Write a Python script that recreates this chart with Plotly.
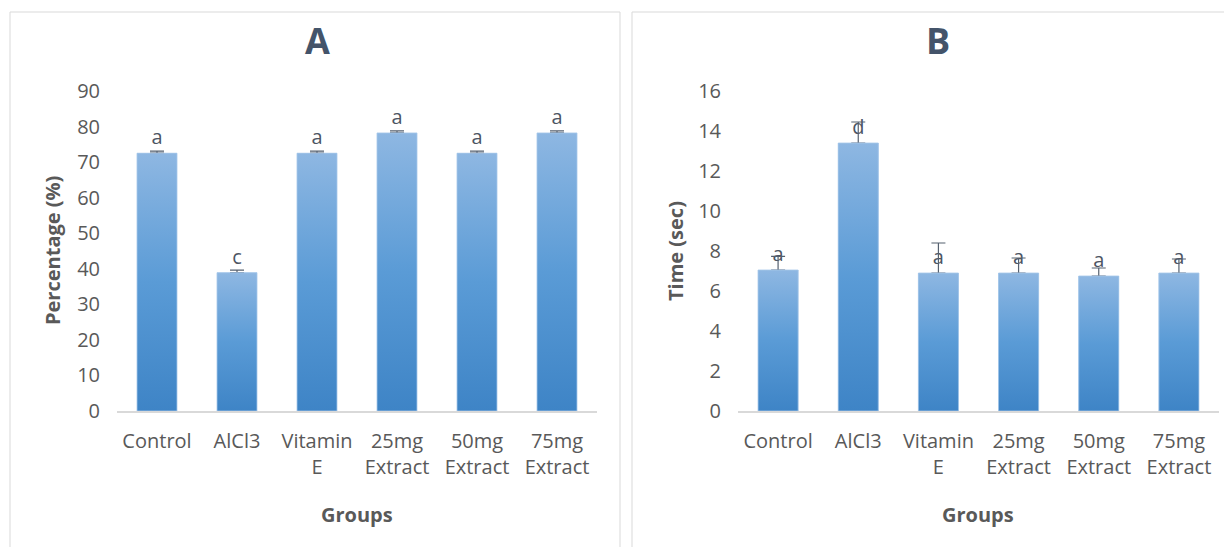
import plotly.graph_objects as go

categories = ["Control", "AlCl3", "Vitamin<br>E", "25mg<br>Extract", "50mg<br>Extract", "75mg<br>Extract"]

pct_values = [72.5, 38.9, 72.5, 78.2, 72.5, 78.2]
pct_errors = [0.6, 0.7, 0.6, 0.6, 0.6, 0.6]
pct_letters = ["a", "c", "a", "a", "a", "a"]

time_values = [7.05, 13.4, 6.9, 6.9, 6.75, 6.9]
time_errors = [0.68, 1.05, 1.5, 0.75, 0.4, 0.7]
time_letters = ["a", "d", "a", "a", "a", "a"]

OFF = 8  # page body margin
W, H = 1232 - OFF, 547 - OFF
FONT = "Open Sans"
TICK_COLOR = "#595959"
BAR_W = 0.5


def px_x(p):
    return (p - OFF) / W


def px_y(p):
    return 1 - (p - OFF) / H


fig = go.Figure()


def add_panel(values, errors, letters, xa, ya):
    idx = list(range(len(values)))
    fig.add_trace(go.Bar(
        x=idx, y=values, width=BAR_W,
        marker=dict(color="#5b9bd5", line=dict(width=0)),
        error_y=dict(type="data", array=errors, arrayminus=[0] * len(errors),
                     symmetric=False, color="#55606f", thickness=1.2, width=7),
        text=letters, textposition="outside", cliponaxis=False,
        textfont=dict(family=FONT, size=20, color="#4d5563"),
        xaxis=xa, yaxis=ya, showlegend=False, hoverinfo="skip",
    ))
    for i, v in zip(idx, values):
        fig.add_trace(go.Scatter(
            x=[i - BAR_W / 2, i - BAR_W / 2, i + BAR_W / 2, i + BAR_W / 2, i - BAR_W / 2],
            y=[0, v, v, 0, 0],
            mode="lines", fill="toself",
            line=dict(width=0.8, color="#a7c8ea"),
            fillgradient=dict(type="vertical",
                              colorscale=[[0, "#3e84c6"], [0.5, "#5a9bd6"], [1, "#8eb7e2"]]),
            xaxis=xa, yaxis=ya, showlegend=False, hoverinfo="skip",
        ))


add_panel(pct_values, pct_errors, pct_letters, "x", "y")
add_panel(time_values, time_errors, time_letters, "x2", "y2")

ydom = [px_y(411), px_y(91)]
common_x = dict(
    range=[-0.5, 5.5], tickvals=list(range(6)), ticktext=categories,
    showline=True, linecolor="#d9d9d9", linewidth=1.5, automargin=False,
    showgrid=False, zeroline=False, ticks="outside", ticklen=11, tickcolor="rgba(0,0,0,0)",
    tickfont=dict(family=FONT, size=20, color=TICK_COLOR),
)
common_y = dict(
    showline=False, showgrid=False, zeroline=False, automargin=False,
    ticks="outside", ticklen=12, tickcolor="rgba(0,0,0,0)",
    tickfont=dict(family=FONT, size=20, color=TICK_COLOR),
)


def ann(text, x, y, size=20, color=TICK_COLOR, angle=0):
    return dict(text=text, x=px_x(x), y=px_y(y), xref="paper", yref="paper",
                xanchor="center", yanchor="middle", showarrow=False, textangle=angle,
                font=dict(family=FONT, size=size, color=color))


fig.update_layout(
    width=W, height=H,
    margin=dict(l=0, r=0, t=0, b=0, autoexpand=False),
    paper_bgcolor="white", plot_bgcolor="white",
    xaxis=dict(domain=[px_x(117), px_x(597)], anchor="y", **common_x),
    yaxis=dict(domain=ydom, anchor="x", range=[0, 90], dtick=10, **common_y),
    xaxis2=dict(domain=[px_x(738), px_x(1219)], anchor="y2", **common_x),
    yaxis2=dict(domain=ydom, anchor="x2", range=[0, 16], dtick=2, **common_y),
    shapes=[
        dict(type="rect", xref="paper", yref="paper", x0=px_x(10), x1=px_x(620), y0=-0.02, y1=px_y(12),
             line=dict(color="#d9d9d9", width=1), fillcolor="rgba(0,0,0,0)", layer="below"),
        dict(type="rect", xref="paper", yref="paper", x0=px_x(632), x1=1.02, y0=-0.02, y1=px_y(12),
             line=dict(color="#d9d9d9", width=1), fillcolor="rgba(0,0,0,0)", layer="below"),
    ],
    annotations=[
        ann("<b>A</b>", 317, 40, size=36, color="#44546a"),
        ann("<b>B</b>", 938, 40, size=36, color="#44546a"),
        ann("<b>Percentage (%)</b>", 52, 251, angle=-90),
        ann("<b>Time (sec)</b>", 675, 251, angle=-90),
        ann("<b>Groups</b>", 357, 514),
        ann("<b>Groups</b>", 978, 514),
    ],
)

fig.write_html("out.html")
